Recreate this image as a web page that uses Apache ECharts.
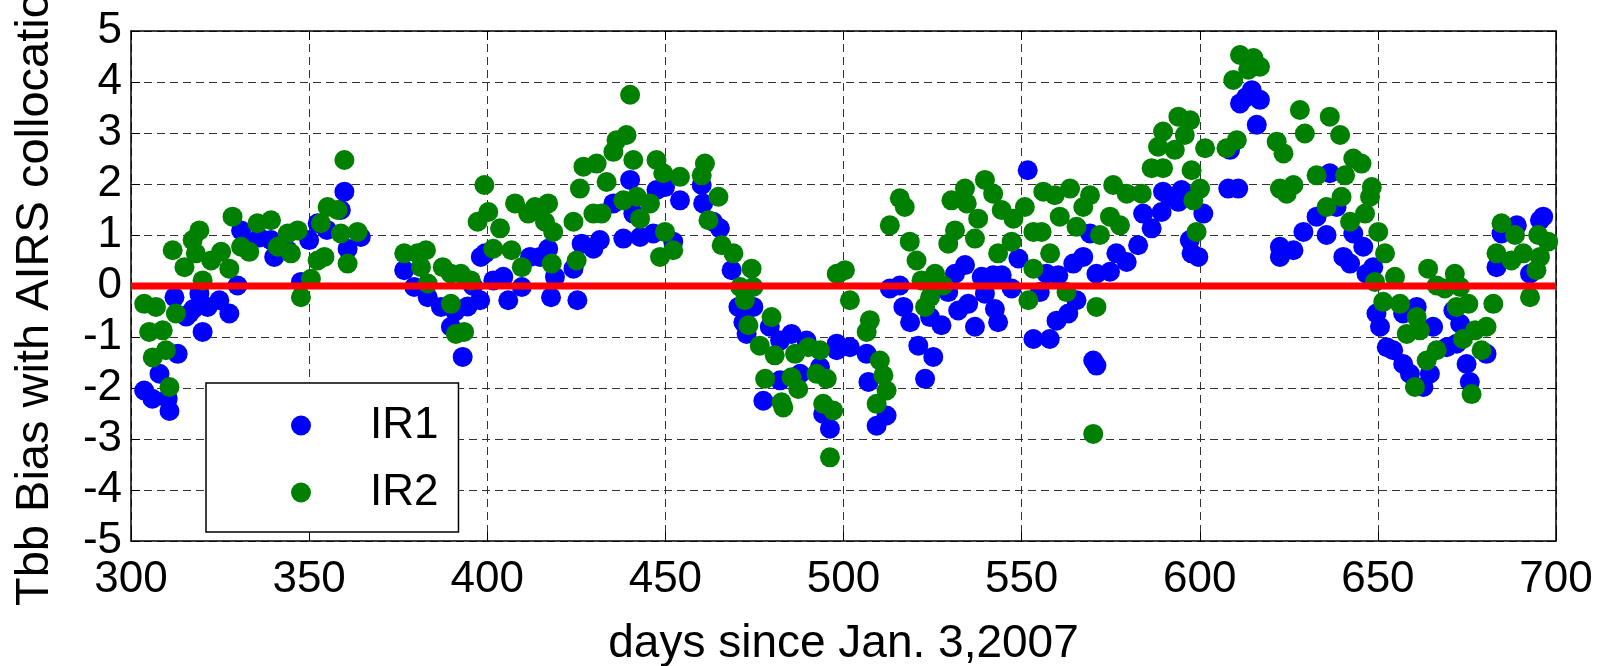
<!DOCTYPE html>
<html>
<head>
<meta charset="utf-8">
<script src="https://cdn.jsdelivr.net/npm/echarts@6/dist/echarts.min.js"></script>
<style>
  html, body { margin: 0; padding: 0; background: #fff; }
  #chart { width: 1599px; height: 666px; }
</style>
</head>
<body>
<div id="chart"></div>
<script>
// Daily Tbb bias of the two IR channels against AIRS collocations
const ir1Days = [303.7,306,308,310.3,310.8,312.2,313.1,315.5,316.4,317.5,319.2,320.1,321.5,324.8,327.6,329.9,330.9,333,336,339.3,340.2,344,347.7,350,352.4,355,358.9,359.9,360.8,364.5,376.7,379.5,383.3,387,389.8,391,393.1,394.5,396,398,398.2,399.4,401.7,404.5,405.9,409.7,412,414.8,417.1,417.9,419,424.2,425.3,426.5,429.8,431.6,435.4,438.2,440.1,441,442.9,446.6,447.5,449.9,452.2,454.1,460.2,460.6,463.4,465.3,468.6,470.5,471.9,472.8,474.7,477.5,479.3,482.2,482.2,485.4,487.8,489.6,493.4,494.3,496.2,498.1,498.1,501.8,506.5,507,509.3,512.1,513,515.8,516.8,518.7,521,522.9,524.3,525.2,527.5,529.4,531.3,532.2,534.1,535,536.9,538.8,539.7,542,542.5,543.4,544.4,547.2,549.1,551.7,553.3,555.1,557,557.9,559.8,560.3,563.1,564.5,565.4,567.3,569.2,570.1,571,571,574.8,576.6,579.5,582.7,584.1,586.5,589.3,589.7,591.5,594,594.9,597.2,597.7,599.6,601,608,608.5,610.8,611.3,613,614.6,616,616.9,622.5,622.5,626.3,629.1,632.8,635.6,636.5,638.4,640.3,642.2,643.1,645.9,646.8,648.7,649.6,650.6,652.5,654.3,657.1,657.1,659,660.9,662.8,664.6,665.5,669.3,671.2,672.1,673.1,674.9,675.8,680.5,683.3,684.7,689,692.7,695.5,696.4];
const ir1Bias = [-2.05,-2.21,-1.72,-2.21,-2.45,-0.22,-1.33,-0.6,-0.54,-0.45,-0.15,-0.9,-0.41,-0.28,-0.54,0.01,1.09,0.85,0.95,0.9,0.57,0.7,0.08,0.9,1.23,1.1,1.49,1.85,0.73,0.96,0.31,-0.02,-0.22,-0.41,-0.8,-0.5,-1.39,-0.4,0.0,-0.28,0.57,0.64,0.11,0.18,-0.28,-0.02,0.57,0.57,0.73,-0.22,0.18,0.34,-0.28,0.83,0.73,0.9,1.62,0.93,2.08,1.42,0.96,1.03,1.88,1.94,0.87,1.68,1.98,1.62,1.26,1.13,0.31,-0.41,-0.71,-0.94,-0.41,-2.25,-0.8,-1.07,-1.85,-0.94,-1.72,-1.07,-1.59,-2.51,-2.8,-1.13,-1.26,-1.2,-1.33,-1.88,-2.74,-2.54,-0.05,0.01,-0.41,-0.71,-1.17,-1.82,-0.61,-1.39,-0.77,-0.12,0.24,-0.48,0.41,-0.35,-0.8,0.18,-0.15,0.21,-0.45,-0.71,0.21,-0.05,0.54,2.27,-1.04,-0.12,0.24,-1.04,-0.68,0.21,-0.54,0.44,-0.28,0.57,1.03,-1.46,-1.56,0.24,0.28,0.64,0.47,0.8,1.42,1.13,1.45,1.85,1.75,1.65,1.88,0.9,0.64,0.57,1.42,1.91,2.67,1.91,3.58,3.7,3.84,3.16,3.65,0.77,0.57,0.7,1.06,1.36,1.0,2.21,1.55,0.57,0.44,1.03,0.77,0.24,0.37,-0.54,-0.8,-1.2,-1.26,-0.54,-1.53,-1.72,-0.41,-1.98,-1.72,-0.8,-1.2,-0.48,-1.13,-0.74,-1.53,-1.88,-1.33,0.37,1.03,1.19,0.24,1.29,1.36];

const ir2Days = [303.7,305.1,306.1,307,308.9,309.8,310.8,311.7,312.6,315,317.3,318.2,319.2,320.1,322.5,325.3,327.6,328.5,330.9,333.2,335.5,339.3,341.2,344,344.9,346.8,347.7,350.5,352.4,353.3,354.3,355.2,358,358.9,359.9,360.8,363.6,376.7,380.4,381.4,382.8,383.3,387.5,389.8,389.8,391.2,392.6,393.5,395.4,397.3,399.2,400.3,401.7,403.6,406.8,407.8,409.7,411.5,413.4,416.2,417.1,418.1,418.5,424.2,425.1,426,427,429.8,430.7,432.1,433.5,435.4,436.3,438.2,439.1,440.1,441,442,442.9,445.7,447.5,448.5,449.4,449.9,452.2,454.1,460.2,461.1,462.1,464.9,465.8,469.1,471,472.3,473.3,474.2,474.7,476.5,478,479.8,480.7,482.6,483.1,485.4,486.4,487.3,490.1,492.4,493.4,494.3,495.3,496.2,497.1,498.1,498.5,500.4,501.8,506.5,507.4,509.3,510.2,511.2,512.1,513,515.8,517.2,518.6,520.5,521.9,522.9,524.3,525.7,528,529.4,530.3,531.3,534.1,534.6,536.9,537.8,539.7,542,543.4,544.4,547.2,547.7,550.9,551.9,553.3,553.3,555.6,556.1,558,559.3,560.7,562.6,563.6,565.4,567.3,569.2,570.1,571,572,574.8,575.7,577.6,579.5,583.7,586.5,588.3,589.7,589.7,593,594,595.8,597.3,597.7,598.2,599.1,600.1,601.5,607.5,609.4,610.4,611.3,613.6,615.1,616.9,621.6,622.5,623.5,624.4,626.3,628.1,629.5,632.8,635.6,636.5,639.4,639.8,640.8,642.2,643.1,645.4,646.4,647.8,648.3,649.2,650.1,651.5,652,654.8,656.2,658.1,660.4,660.9,661.8,663.7,664.1,666.5,666.5,668.8,671.6,672.1,673.1,673.9,675.4,676.3,677.3,679.1,680.5,682.4,683.3,684.7,687.5,688.5,690.8,692.7,694.5,695,695.5,697.8];
const ir2Bias = [-0.35,-0.9,-1.4,-0.41,-0.87,-1.26,-1.98,0.7,-0.54,0.37,0.9,0.64,1.09,0.11,0.5,0.67,0.34,1.36,0.77,0.67,1.23,1.29,0.77,1.03,0.64,1.09,-0.22,0.14,0.5,1.23,0.57,1.55,1.49,1.03,2.47,0.44,1.06,0.64,0.64,0.37,0.7,0.05,0.37,0.24,-0.35,-0.94,0.24,-0.9,0.11,1.26,1.98,1.45,0.73,1.13,0.7,1.62,0.37,1.42,1.55,1.26,1.62,0.44,1.06,1.26,0.5,1.91,2.34,1.42,2.4,1.42,2.04,2.63,2.86,1.68,2.96,3.75,2.47,1.75,1.32,1.62,2.47,0.57,2.21,1.06,0.7,2.14,2.17,2.4,1.29,1.75,0.8,0.64,-0.02,-0.28,-0.77,0.34,-0.02,-1.17,-1.82,-0.61,-1.36,-2.28,-2.38,-1.79,-1.33,-2.02,-1.2,-1.72,-1.26,-2.31,-1.82,-3.36,-2.44,0.24,0.24,0.31,-0.28,-0.9,-0.67,-2.31,-1.46,-1.75,-2.05,1.19,1.72,1.55,0.87,0.5,0.11,-0.41,-0.22,0.24,0.01,0.83,1.68,1.09,1.91,1.62,0.93,1.32,2.08,1.81,0.64,1.49,0.87,1.32,1.55,-0.28,0.34,1.06,1.06,1.85,0.64,1.78,1.36,-0.12,1.91,1.16,1.55,1.78,-2.9,-0.41,1.0,1.36,1.98,1.19,1.81,1.81,2.31,2.73,2.31,3.03,2.67,3.32,2.96,3.25,2.27,1.68,1.06,1.91,2.7,2.7,4.04,2.86,4.53,4.24,4.47,4.3,2.83,1.91,2.6,1.81,1.98,3.45,2.99,2.17,1.55,3.32,2.96,1.75,2.17,1.26,2.5,2.4,1.42,1.75,1.94,0.08,1.06,-0.31,0.64,0.18,-0.35,-0.94,-1.98,-0.61,-0.87,-1.46,0.34,0.01,-1.26,-0.05,0.24,-0.41,-0.02,-1.04,-0.35,-2.12,-0.87,-1.26,-0.8,-0.35,0.64,1.23,0.5,1.0,0.64,-0.22,0.31,1.0,0.57,0.87];

// zero-bias reference line
const zeroDays = [300, 700];
const zeroBias = [0, 0];

const xTicks = { min: 300, max: 700, step: 50 };
const yTicks = { min: -5, max: 5, step: 1 };

const pair = (xs, ys) => xs.map((x, i) => [x, ys[i]]);

const labelFont = "'Liberation Sans', Arial, sans-serif";

const chart = echarts.init(document.getElementById('chart'), null, { renderer: 'canvas' });

const gridLine = { show: true, lineStyle: { color: '#333', width: 1, type: [8, 5] } };
const boxLine = { show: true, onZero: false, lineStyle: { color: '#000', width: 1.5 } };
const inTicks = { show: true, inside: true, length: 9, lineStyle: { color: '#000' } };

chart.setOption({
  animation: false,
  backgroundColor: '#fff',
  grid: { left: 131, right: 43, top: 31, bottom: 125, containLabel: false, outerBoundsMode: 'none' },
  legend: {
    data: ['IR1', 'IR2'],
    orient: 'vertical',
    left: 206,
    top: 383,
    padding: [20, 20, 17, 85],
    itemWidth: 128,
    itemHeight: 20,
    itemGap: 22,
    icon: 'circle',
    backgroundColor: '#fff',
    borderColor: '#000',
    borderWidth: 1.5,
    borderRadius: 0,
    textStyle: { fontFamily: labelFont, fontSize: 44, lineHeight: 45, color: '#000' },
    z: 10
  },
  xAxis: [
    {
      type: 'value', position: 'bottom',
      min: xTicks.min, max: xTicks.max, interval: xTicks.step,
      name: 'days since Jan. 3,2007', nameLocation: 'middle', nameGap: 80,
      nameTextStyle: { fontFamily: labelFont, fontSize: 46, color: '#000' },
      axisLine: boxLine,
      axisTick: inTicks,
      axisLabel: { fontFamily: labelFont, fontSize: 44, color: '#000', margin: 17, showMinLabel: true, showMaxLabel: true, hideOverlap: false },
      splitLine: gridLine
    },
    {
      type: 'value', position: 'top',
      min: xTicks.min, max: xTicks.max, interval: xTicks.step,
      axisLine: boxLine,
      axisTick: inTicks,
      axisLabel: { show: false },
      splitLine: { show: false }
    }
  ],
  yAxis: [
    {
      type: 'value', position: 'left',
      min: yTicks.min, max: yTicks.max, interval: yTicks.step,
      name: 'Tbb Bias with AIRS collocation', nameLocation: 'middle', nameGap: 72,
      nameTextStyle: { fontFamily: labelFont, fontSize: 47, color: '#000' },
      axisLine: boxLine,
      axisTick: inTicks,
      axisLabel: { fontFamily: labelFont, fontSize: 44, color: '#000', margin: 9, showMinLabel: true, showMaxLabel: true, hideOverlap: false },
      splitLine: gridLine
    },
    {
      type: 'value', position: 'right',
      min: yTicks.min, max: yTicks.max, interval: yTicks.step,
      axisLine: boxLine,
      axisTick: inTicks,
      axisLabel: { show: false },
      splitLine: { show: false }
    }
  ],
  series: [
    {
      name: 'IR1', type: 'scatter',
      data: pair(ir1Days, ir1Bias),
      symbol: 'circle', symbolSize: 20,
      itemStyle: { color: '#0000ff', opacity: 1 },
      z: 2
    },
    {
      name: 'IR2', type: 'scatter',
      data: pair(ir2Days, ir2Bias),
      symbol: 'circle', symbolSize: 20,
      itemStyle: { color: '#008000', opacity: 1 },
      z: 3
    },
    {
      name: 'zero', type: 'line',
      data: pair(zeroDays, zeroBias),
      symbol: 'none',
      lineStyle: { color: '#ff0000', width: 7 },
      z: 4,
      silent: true
    }
  ]
});
</script>
</body>
</html>
